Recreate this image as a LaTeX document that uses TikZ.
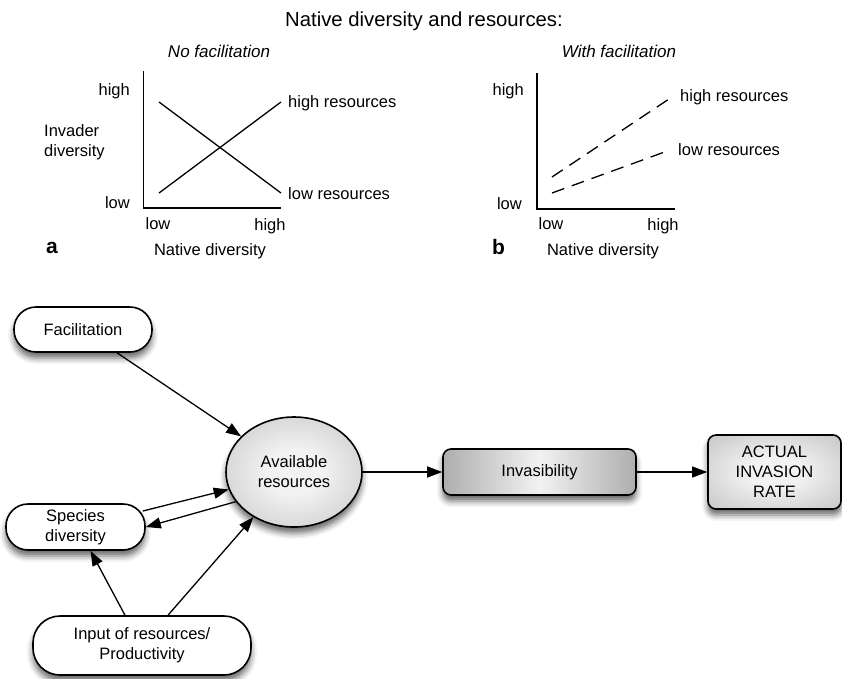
\documentclass[tikz,border=0pt]{standalone}
\usepackage{fontspec}
\setmainfont{Liberation Sans}
\usetikzlibrary{arrows.meta,shapes.geometric,shadows.blur,calc}
\definecolor{shL}{gray}{0.95}
\definecolor{shD}{gray}{0.68}
\pgfdeclareradialshading{softrad}{\pgfpoint{0bp}{0bp}}{color(0bp)=(shL); color(10bp)=(shL); color(50bp)=(shD); color(80bp)=(shD)}
\tikzset{
  lbl/.style={inner sep=0pt},
  heading/.style={inner sep=0pt, font=\fontsize{17}{20}\selectfont\itshape},
  panel/.style={inner sep=0pt, font=\fontsize{21}{24}\selectfont\bfseries},
  axisline/.style={line width=1.7pt},
  plotline/.style={line width=1.3pt},
  dashline/.style={line width=1.3pt, dash pattern=on 13pt off 8pt},
  softshadow/.style={blur shadow={shadow xshift=0pt, shadow yshift=-6pt, shadow blur radius=6pt, shadow opacity=60}},
  pill/.style={draw, line width=1.6pt, fill=white, rounded corners=22pt, inner sep=0pt, align=center, softshadow},
  greybox/.style={draw, line width=1.6pt, rounded corners=8pt, inner sep=0pt, align=center, softshadow},
  conn/.style={line width=1.3pt, -{Triangle[length=15pt,width=11pt]}},
}
\begin{document}
\begin{tikzpicture}[x=1pt,y=-1pt, font=\fontsize{16.5}{20}\selectfont]
\useasboundingbox (0,0) rectangle (842,678);

% headings
\node[lbl, font=\fontsize{20.3}{24}\selectfont, anchor=base] (title) at (424,26) {Native diversity and resources:};
\node[heading, anchor=base] (hA) at (219,57.5) {No facilitation};
\node[heading, anchor=base] (hB) at (619,57.5) {With facilitation};

% panel a
\coordinate (aT) at (143.5,71);
\coordinate (aO) at (143.5,208);
\coordinate (aR) at (281,208);
\draw[axisline] (aT) -- (aO) -- (aR);
\coordinate (a1s) at (159,102);
\coordinate (a1e) at (281,193);
\coordinate (a2s) at (159,193);
\coordinate (a2e) at (281,102);
\draw[plotline] (a1s) -- (a1e);
\draw[plotline] (a2s) -- (a2e);
\node[lbl, anchor=base east] (ayh) at (130,95) {high};
\node[lbl, anchor=base east] (ayl) at (130,208) {low};
\node[lbl, anchor=west, align=left] (ayt) at (44,142) {Invader\\diversity};
\node[lbl, anchor=base west] (ahr) at (288,107.5) {high resources};
\node[lbl, anchor=base west] (alr) at (288,199.5) {low resources};
\node[lbl, anchor=base] (axl) at (158,229) {low};
\node[lbl, anchor=base] (axh) at (270,230) {high};
\node[panel, anchor=base] (pa) at (52,253) {a};
\node[lbl, anchor=base] (axt) at (210,255) {Native diversity};

% panel b
\coordinate (bT) at (537,73);
\coordinate (bO) at (537,209);
\coordinate (bR) at (675,209);
\draw[axisline] (bT) -- (bO) -- (bR);
\coordinate (b1s) at (552,177);
\coordinate (b1e) at (672,97);
\coordinate (b2s) at (552,193);
\coordinate (b2e) at (670,150);
\draw[dashline] (b1s) -- (b1e);
\draw[dashline] (b2s) -- (b2e);
\node[lbl, anchor=base east] (byh) at (524,95) {high};
\node[lbl, anchor=base east] (byl) at (522,209.5) {low};
\node[lbl, anchor=base west] (bhr) at (680,101.5) {high resources};
\node[lbl, anchor=base west] (blr) at (678,155.5) {low resources};
\node[lbl, anchor=base] (bxl) at (551,229) {low};
\node[lbl, anchor=base] (bxh) at (663,230) {high};
\node[panel, anchor=base] (pb) at (498.5,254) {b};
\node[lbl, anchor=base] (bxt) at (603,255) {Native diversity};

% flow diagram
\node[pill, minimum width=138pt, minimum height=45pt] (fac) at (83,329.5) {Facilitation};
\node[pill, minimum width=139pt, minimum height=46pt] (spec) at (75.5,527) {Species\\diversity};
\node[pill, rounded corners=27pt, minimum width=218pt, minimum height=59pt] (inp) at (142,645.5) {Input of resources/\\Productivity};
\node[ellipse, draw, line width=1.6pt, shading=softrad, inner sep=0pt, minimum width=136pt, minimum height=110pt, align=center, softshadow] (avail) at (294,472) {Available\\resources};
\node[greybox, left color=shD, right color=shD, middle color=shL, minimum width=193pt, minimum height=46pt] (inv) at (539.5,472) {Invasibility};
\node[greybox, shading=softrad, minimum width=133pt, minimum height=74pt] (act) at (774.5,472) {ACTUAL\\INVASION\\RATE};

\draw[conn] ([xshift=34pt]fac.south) -- (avail.146);
\draw[conn] ([shift={(-3pt,16pt)}]spec.east) -- (avail.195);
\draw[conn] (avail.207) -- (spec.east);
\draw[conn] ([xshift=-17pt]inp.north) -- ([xshift=15pt]spec.south);
\draw[conn] ([xshift=26pt]inp.north) -- (avail.228);
\draw[conn] (avail.east) -- (inv.west);
\draw[conn] (inv.east) -- (act.west);
\end{tikzpicture}
\end{document}
